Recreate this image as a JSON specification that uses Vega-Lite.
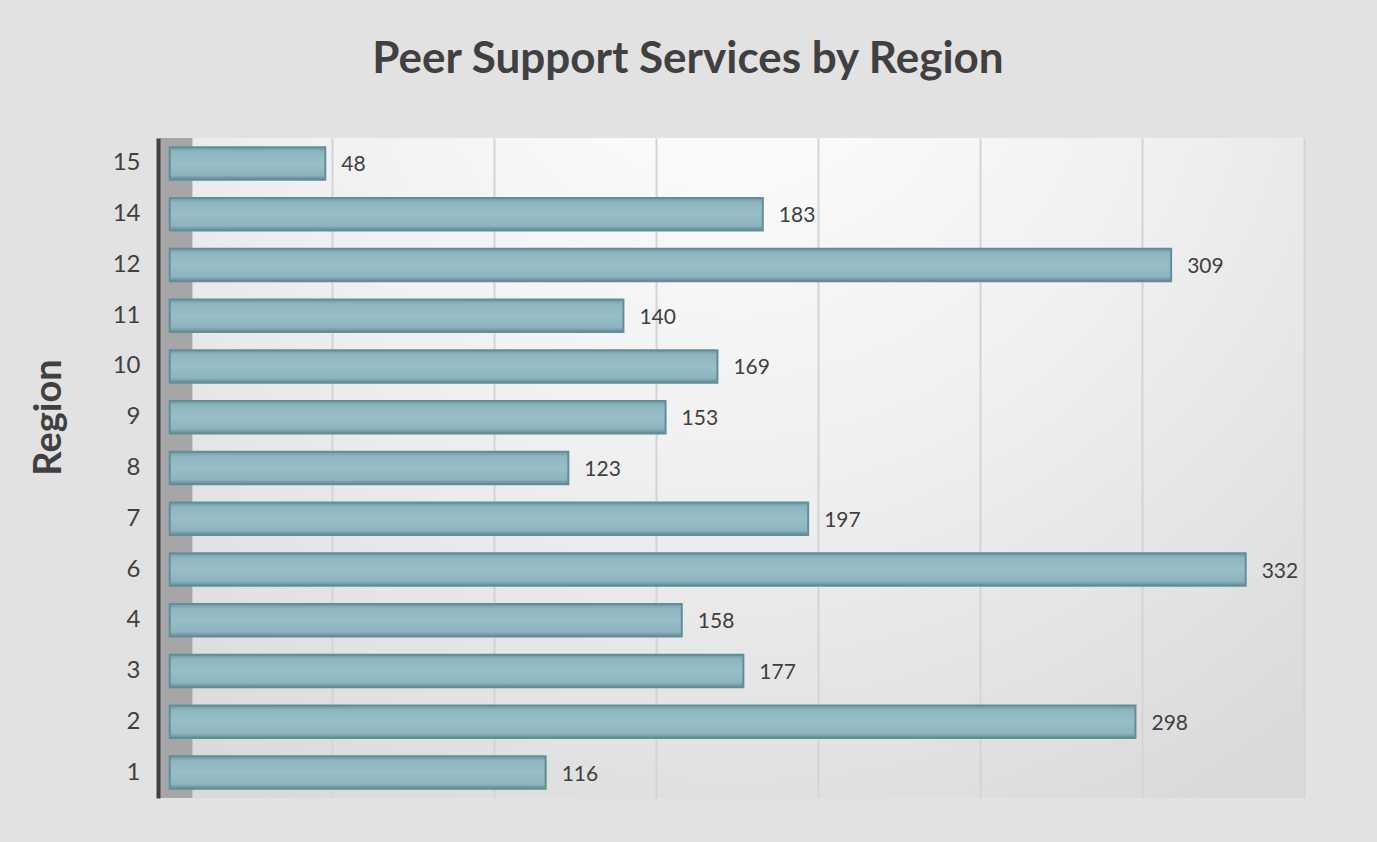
{
  "$schema": "https://vega.github.io/schema/vega-lite/v6.json",
  "autosize": {"type": "none"},
  "width": 1144,
  "height": 660,
  "padding": {"left": 160, "top": 138, "right": 73, "bottom": 44},
  "background": "#e2e2e2",
  "title": {
    "text": "Peer Support Services by Region",
    "font": "Lato",
    "fontSize": 44,
    "fontWeight": "bold",
    "color": "#404040",
    "anchor": "middle",
    "dx": -44,
    "offset": 12,
    "baseline": "bottom"
  },
  "config": {
    "view": {
      "stroke": null,
      "fill": {
        "gradient": "radial",
        "x1": 0.5, "y1": 0.1, "r1": 0,
        "x2": 0.5, "y2": 0.1, "r2": 0.8,
        "stops": [
          {"offset": 0, "color": "#ffffff"},
          {"offset": 0.5, "color": "#f0f0f0"},
          {"offset": 1, "color": "#dadada"}
        ]
      }
    },
    "font": "Lato"
  },
  "layer": [
    {
      "data": {"values": [{}]},
      "mark": {"type": "rect", "color": "#a6a6a6"},
      "encoding": {
        "x": {"datum": -3, "type": "quantitative"},
        "x2": {"datum": 7}
      }
    },
    {
      "data": {"name": "main"},
      "mark": {
        "type": "bar",
        "stroke": "#5e8f9b",
        "strokeWidth": 2,
        "color": {
          "gradient": "linear",
          "x1": 0, "y1": 0, "x2": 0, "y2": 1,
          "stops": [
            {"offset": 0, "color": "#6f9aa4"},
            {"offset": 0.14, "color": "#8fb6bf"},
            {"offset": 0.5, "color": "#98bec7"},
            {"offset": 0.86, "color": "#8db3bc"},
            {"offset": 1, "color": "#5f8993"}
          ]
        }
      },
      "encoding": {
        "y": {
          "field": "region",
          "type": "ordinal",
          "sort": "descending",
          "scale": {"paddingInner": 0.36, "paddingOuter": 0.18},
          "axis": {
            "title": "Region",
            "titleFont": "Lato",
            "titleFontSize": 38,
            "titleFontWeight": "bold",
            "titleColor": "#404040",
            "titleX": -109,
            "titleY": 279,
            "titleAlign": "center",
            "titleBaseline": "middle",
            "labelFont": "Lato",
            "labelFontSize": 24,
            "labelColor": "#404040",
            "labelPadding": 18,
            "ticks": false,
            "domainColor": "#404040",
            "domainWidth": 4,
            "offset": 2,
            "zindex": 1
          }
        },
        "x": {
          "field": "services",
          "type": "quantitative",
          "scale": {"domain": [-3, 350], "nice": false, "zero": false},
          "axis": {
            "title": null,
            "labels": false,
            "ticks": false,
            "domain": false,
            "grid": true,
            "gridColor": "#d4d4d4",
            "gridWidth": 2,
            "values": [50, 100, 150, 200, 250, 300, 350]
          }
        },
        "x2": {"datum": 0}
      }
    },
    {
      "data": {"name": "main"},
      "mark": {
        "type": "text",
        "align": "left",
        "baseline": "middle",
        "dx": 16,
        "dy": 2,
        "font": "Lato",
        "fontSize": 21,
        "color": "#404040"
      },
      "encoding": {
        "y": {"field": "region", "type": "ordinal", "sort": "descending"},
        "x": {"field": "services", "type": "quantitative"},
        "text": {"field": "services", "type": "quantitative"}
      }
    }
  ],
  "datasets": {
    "main": [
      {"region": 1, "services": 116},
      {"region": 2, "services": 298},
      {"region": 3, "services": 177},
      {"region": 4, "services": 158},
      {"region": 6, "services": 332},
      {"region": 7, "services": 197},
      {"region": 8, "services": 123},
      {"region": 9, "services": 153},
      {"region": 10, "services": 169},
      {"region": 11, "services": 140},
      {"region": 12, "services": 309},
      {"region": 14, "services": 183},
      {"region": 15, "services": 48}
    ]
  }
}
